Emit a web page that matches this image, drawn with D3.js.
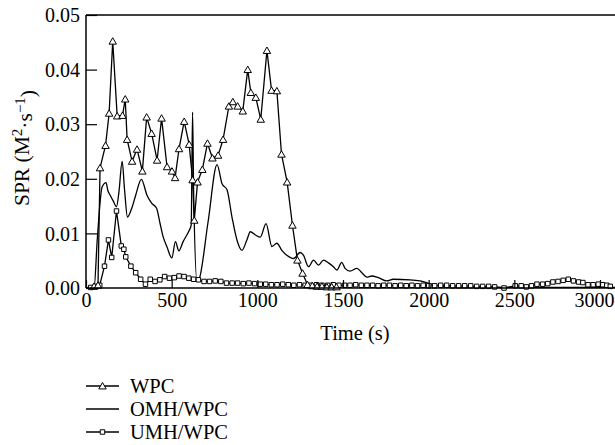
<!DOCTYPE html>
<html><head><meta charset="utf-8">
<script src="https://cdn.jsdelivr.net/npm/d3@7"></script>
<style>
html,body{margin:0;padding:0;background:#fff;}
svg{display:block;}
</style></head>
<body><svg id="c" width="615" height="445" font-family="Liberation Serif"></svg>
<script>
// ---- data ----
const xTicks = [0, 500, 1000, 1500, 2000, 2500, 3000];
const yTicks = [0, 0.01, 0.02, 0.03, 0.04, 0.05];
const seriesNames = ["WPC", "OMH/WPC", "UMH/WPC"];

const wpcTime  = [0, 47, 70, 82, 114, 135, 156, 182, 213, 229, 240, 269, 298, 329, 354, 383, 415, 441, 473, 502, 520, 543, 573, 602, 622, 632, 651, 679, 709, 738, 771, 800, 834, 857, 885, 915, 944, 962, 991, 1020, 1056, 1083, 1114, 1141, 1174, 1205, 1234, 1264, 1293, 1321, 1349, 1377, 1406, 1434, 1462];
const wpcValue = [0, 0.0003, 0.0005, 0.0220, 0.0261, 0.0320, 0.0452, 0.0315, 0.0316, 0.0346, 0.0272, 0.0232, 0.0254, 0.0214, 0.0313, 0.0283, 0.0234, 0.0311, 0.0222, 0.0214, 0.0202, 0.0255, 0.0305, 0.0263, 0.0198, 0.0124, 0.0194, 0.0217, 0.0265, 0.0238, 0.0243, 0.0272, 0.0333, 0.0341, 0.0333, 0.0324, 0.0400, 0.0358, 0.0349, 0.0309, 0.0435, 0.0362, 0.0361, 0.0245, 0.0194, 0.0115, 0.0051, 0.0027, 0.0006, 0.0004, 0.0003, 0.0003, 0.0002, 0.0002, 0.0002];

const omhTime  = [0, 47, 66, 94, 117, 128, 141, 158, 178, 192, 211, 225, 242, 267, 290, 323, 356, 384, 412, 431, 450, 473, 501, 522, 542, 567, 600, 614, 622, 628, 648, 659, 712, 765, 794, 823, 852, 881, 910, 939, 959, 989, 1017, 1051, 1085, 1114, 1143, 1172, 1211, 1250, 1269, 1299, 1328, 1357, 1386, 1415, 1444, 1464, 1493, 1512, 1541, 1581, 1610, 1639, 1668, 1706, 1755, 1793, 1891, 1949, 2007, 2066, 2104, 2250, 2450, 2650, 2850, 3100];
const omhValue = [0, 0, 0.0090, 0.0185, 0.0193, 0.0178, 0.0170, 0.0160, 0.0149, 0.0175, 0.0232, 0.0180, 0.0130, 0.0146, 0.0170, 0.0199, 0.0170, 0.0155, 0.0146, 0.0120, 0.0094, 0.0075, 0.0055, 0.0085, 0.0068, 0.0085, 0.0104, 0.0115, 0.0322, 0.0180, 0.0012, 0.0015, 0.0120, 0.0226, 0.0191, 0.0180, 0.0130, 0.0088, 0.0069, 0.0088, 0.0103, 0.0097, 0.0093, 0.0118, 0.0076, 0.0082, 0.0069, 0.0060, 0.0054, 0.0065, 0.0060, 0.0039, 0.0051, 0.0042, 0.0051, 0.0046, 0.0039, 0.0033, 0.0047, 0.0036, 0.0031, 0.0036, 0.0028, 0.0020, 0.0022, 0.0019, 0.0013, 0.0016, 0.0015, 0.0013, 0.0008, 0.0004, 0.0002, 0.0001, 0.0001, 0.0001, 0.0001, 0.0001];

const umhTime  = [0, 28, 56, 80, 108, 131, 150, 178, 206, 221, 232, 262, 290, 319, 347, 375, 403, 431, 459, 487, 515, 543, 572, 600, 628, 656, 689, 721, 754, 787, 820, 853, 885, 918, 951, 984, 1017, 1049, 1082, 1115, 1148, 1181, 1213, 1246, 1279, 1312, 1345, 1377, 1410, 1443, 1476, 1509, 1541, 1574, 1607, 1640, 1673, 1705, 1738, 1771, 1804, 1837, 1869, 1902, 1935, 1968, 2000, 2035, 2070, 2105, 2140, 2175, 2210, 2245, 2280, 2315, 2350, 2385, 2440, 2505, 2540, 2570, 2600, 2632, 2665, 2695, 2725, 2755, 2785, 2815, 2845, 2875, 2900, 2930, 2960, 2990, 3015, 3040, 3060];
const umhValue = [0, 0.0001, 0.0003, 0.0005, 0.0040, 0.0088, 0.0056, 0.0141, 0.0077, 0.0071, 0.0057, 0.0040, 0.0028, 0.0016, 0.0007, 0.0016, 0.0012, 0.0015, 0.0021, 0.0018, 0.0019, 0.0022, 0.0021, 0.0018, 0.0016, 0.0015, 0.0012, 0.0012, 0.0013, 0.0012, 0.0009, 0.0009, 0.0009, 0.0008, 0.0009, 0.0008, 0.0007, 0.0007, 0.0006, 0.0006, 0.0007, 0.0006, 0.0005, 0.0006, 0.0005, 0.0005, 0.0006, 0.0005, 0.0005, 0.0006, 0.0005, 0.0005, 0.0005, 0.0006, 0.0005, 0.0005, 0.0005, 0.0004, 0.0005, 0.0005, 0.0004, 0.0005, 0.0004, 0.0005, 0.0004, 0.0005, 0.0004, 0.0004, 0.0005, 0.0005, 0.0004, 0.0004, 0.0004, 0.0004, 0.0003, 0.0003, 0.0003, 0.0002, 0.0000, 0.0004, 0.0004, 0.0002, 0.0004, 0.0007, 0.0007, 0.0008, 0.0011, 0.0012, 0.0014, 0.0016, 0.0013, 0.0011, 0.0010, 0.0006, 0.0006, 0.0007, 0.0006, 0.0005, 0.0003];

// ---- layout ----
const FONT = "Liberation Serif";
const mLeft = 86, mTop = 15, mBottom = 288, rightEdge = 615;
const x = d3.scaleLinear().domain([0, 3000]).range([mLeft, 600]);
const y = d3.scaleLinear().domain([0, 0.05]).range([mBottom, mTop]);

const svg = d3.select("#c");
const g = svg.append("g");

function zip(t, v) { return t.map((d, i) => ({t: d, v: v[i]})); }
const wpc = zip(wpcTime, wpcValue), omh = zip(omhTime, omhValue), umh = zip(umhTime, umhValue);

const lineLin = d3.line().x(d => x(d.t)).y(d => y(d.v));
const lineSmooth = d3.line().x(d => x(d.t)).y(d => y(d.v)).curve(d3.curveMonotoneX);

g.append("path").datum(omh).attr("d", lineSmooth).attr("fill", "none").attr("stroke", "#000").attr("stroke-width", 1.3);
g.append("path").datum(umh).attr("d", lineLin).attr("fill", "none").attr("stroke", "#000").attr("stroke-width", 1.3);
g.append("path").datum(wpc).attr("d", lineLin).attr("fill", "none").attr("stroke", "#000").attr("stroke-width", 1.3);

const tri = d3.symbol().type(d3.symbolTriangle).size(24);
const sq = d3.symbol().type(d3.symbolSquare).size(20);

g.selectAll(".um").data(umh.filter(d => d.t > 0)).join("path")
  .attr("d", sq).attr("transform", d => `translate(${x(d.t)},${y(d.v)})`)
  .attr("fill", "#fff").attr("stroke", "#000").attr("stroke-width", 1);
g.selectAll(".wp").data(wpc.filter(d => d.t > 0)).join("path")
  .attr("d", tri).attr("transform", d => `translate(${x(d.t)},${y(d.v) + 0.8})`)
  .attr("fill", "#fff").attr("stroke", "#000").attr("stroke-width", 1);

// axes
const xAxis = d3.axisBottom(x).tickValues(xTicks).tickSizeInner(-8).tickSizeOuter(0).tickPadding(6).tickFormat(d3.format("d"));
const yAxis = d3.axisLeft(y).tickValues(yTicks).tickSizeInner(-11).tickSizeOuter(0).tickPadding(8).tickFormat(d3.format(".2f"));

const gx = svg.append("g").attr("transform", `translate(0,${mBottom})`).call(xAxis);
const gy = svg.append("g").attr("transform", `translate(${mLeft},0)`).call(yAxis);
[gx, gy].forEach(a => {
  a.attr("font-family", FONT).attr("font-size", 20);
  a.select(".domain").remove();
  a.selectAll("line").attr("stroke", "#000").attr("stroke-width", 1.2);
  a.selectAll("text").attr("fill", "#000").attr("font-family", FONT).attr("font-size", 20);
});
gx.selectAll("text").attr("dy", "0.71em").attr("y", 5);
gx.selectAll("text").filter(d => d === 3000).attr("text-anchor", "end").attr("x", 614 - x(3000));
gy.selectAll("text").attr("x", -6).attr("dy", "0.33em");

// frame: left, bottom, top
svg.append("line").attr("x1", mLeft).attr("x2", rightEdge).attr("y1", mBottom).attr("y2", mBottom).attr("stroke", "#000").attr("stroke-width", 1.5);
svg.append("line").attr("x1", mLeft).attr("x2", rightEdge).attr("y1", mTop).attr("y2", mTop).attr("stroke", "#000").attr("stroke-width", 1.5);
svg.append("line").attr("x1", mLeft).attr("x2", mLeft).attr("y1", mTop).attr("y2", mBottom).attr("stroke", "#000").attr("stroke-width", 1.5);

// axis titles
svg.append("text").attr("x", 355).attr("y", 340).attr("text-anchor", "middle")
  .attr("font-family", FONT).attr("font-size", 20.5).attr("fill", "#000").text("Time (s)");
const yl = svg.append("text").attr("transform", `translate(29,148) rotate(-90)`)
  .attr("text-anchor", "middle").attr("font-family", FONT).attr("font-size", 21.5).attr("fill", "#000");
yl.append("tspan").text("SPR (M");
yl.append("tspan").attr("dy", "-0.45em").attr("font-size", 15).text("2");
yl.append("tspan").attr("dy", "0.45em").text("·s");
yl.append("tspan").attr("dy", "-0.45em").attr("font-size", 15).text("−1");
yl.append("tspan").attr("dy", "0.45em").text(")");

// legend
const legY = [386, 409, 432];
const leg = svg.append("g");
seriesNames.forEach((name, i) => {
  const ly = legY[i];
  leg.append("line").attr("x1", 86).attr("x2", 119).attr("y1", ly).attr("y2", ly).attr("stroke", "#000").attr("stroke-width", 1.3);
  if (i === 0) leg.append("path").attr("d", tri).attr("transform", `translate(102.5,${ly + 0.8})`).attr("fill", "#fff").attr("stroke", "#000");
  if (i === 2) leg.append("path").attr("d", sq).attr("transform", `translate(102.5,${ly})`).attr("fill", "#fff").attr("stroke", "#000");
  leg.append("text").attr("x", 130).attr("y", ly).attr("dy", "0.35em")
    .attr("font-family", FONT).attr("font-size", 20.5).attr("fill", "#000").text(name);
});
</script></body></html>
